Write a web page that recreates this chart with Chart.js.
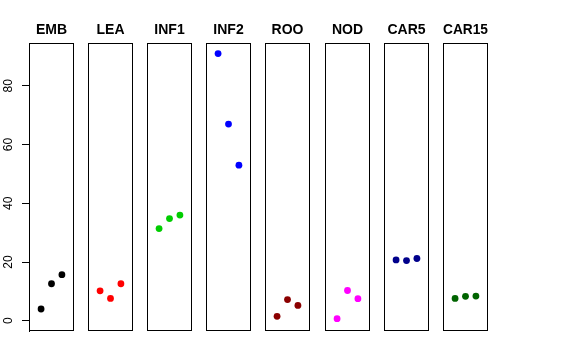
<!DOCTYPE html>
<html>
<head>
<meta charset="utf-8">
<script src="https://cdn.jsdelivr.net/npm/chart.js@4/dist/chart.umd.min.js"></script>
<style>
  html, body { margin: 0; padding: 0; background: #fff; }
  #wrap { position: relative; width: 576px; height: 360px; }
  #wrap canvas { position: absolute; left: 0; top: 0; }
</style>
</head>
<body>
<div id="wrap"></div>
<script>
// panel names, left to right
const panels = [`EMB`, `LEA`, `INF1`, `INF2`, `ROO`, `NOD`, `CAR5`, `CAR15`];
const panelColors = [`#000000`, `#FF0000`, `#00CD00`, `#0000FF`, `#8B0000`, `#FF00FF`, `#00008B`, `#006400`];

// three replicates per panel
const replicates = [1, 2, 3];
const embValues = [4.0, 12.6, 15.7];
const leaValues = [10.2, 7.6, 12.6];
const inf1Values = [31.4, 34.8, 36.0];
const inf2Values = [91.0, 67.0, 53.0];
const rooValues = [1.5, 7.2, 5.2];
const nodValues = [0.7, 10.3, 7.5];
const car5Values = [20.7, 20.5, 21.2];
const car15Values = [7.6, 8.3, 8.4];
const panelValues = [embValues, leaValues, inf1Values, inf2Values, rooValues, nodValues, car5Values, car15Values];

const yTicks = [0, 20, 40, 60, 80];

const W = 576;
const H = 360;
const BOX_LEFT = 28.5;
const BOX_STEP = 59.2;
const BOX_WIDTH = 45;
const BOX_BOTTOM = 331;

// draws the frame round each panel
const boxPlugin = {
  id: `box`,
  afterDraw(chart) {
    const { ctx, chartArea: a } = chart;
    ctx.save();
    ctx.strokeStyle = `#000`;
    ctx.lineWidth = 1;
    const l = Math.round(a.left) + 0.5;
    const t = Math.round(a.top) + 0.5;
    const r = Math.round(a.right) - 0.5;
    const b = Math.round(a.bottom) - 0.5;
    ctx.strokeRect(l, t, r - l, b - t);
    ctx.restore();
  },
};

const wrap = document.getElementById(`wrap`);

panels.forEach((name, i) => {
  const canvas = document.createElement(`canvas`);
  canvas.width = W;
  canvas.height = H;
  canvas.style.width = W + `px`;
  canvas.style.height = H + `px`;
  wrap.appendChild(canvas);

  const left = Math.round(BOX_LEFT + BOX_STEP * i);
  const first = i === 0;

  new Chart(canvas, {
    type: `scatter`,
    data: {
      datasets: [
        {
          data: replicates.map((x, k) => ({ x, y: panelValues[i][k] })),
          backgroundColor: panelColors[i],
          borderWidth: 0,
          pointRadius: 3.4,
        },
      ],
    },
    options: {
      responsive: false,
      animation: false,
      events: [],
      layout: {
        padding: {
          left: first ? 0 : left,
          right: W - left - BOX_WIDTH,
          top: 0,
          bottom: H - BOX_BOTTOM,
        },
      },
      plugins: {
        legend: { display: false },
        tooltip: { enabled: false },
        title: {
          display: true,
          text: name,
          fullSize: false,
          color: `#000`,
          font: { family: `"Liberation Sans", Arial, sans-serif`, size: 14, weight: `bold`, lineHeight: 1.2 },
          padding: { top: 21.3, bottom: 5.2 },
        },
      },
      scales: {
        x: { type: `linear`, min: -0.16, max: 4.16, display: false },
        y: {
          type: `linear`,
          min: -3.5,
          max: 94.5,
          display: first,
          afterFit: (scale) => {
            if (first) scale.width = left;
          },
          afterBuildTicks: (scale) => {
            scale.ticks = yTicks.map((value) => ({ value }));
          },
          border: { display: true, color: `#000` },
          grid: { drawOnChartArea: false, drawTicks: true, tickLength: 7, color: `#000` },
          ticks: {
            color: `#000`,
            minRotation: 90,
            maxRotation: 90,
            crossAlign: `center`,
            padding: 7,
            font: { family: `"Liberation Sans", Arial, sans-serif`, size: 12 },
          },
        },
      },
    },
    plugins: [boxPlugin],
  });
});
</script>
</body>
</html>
